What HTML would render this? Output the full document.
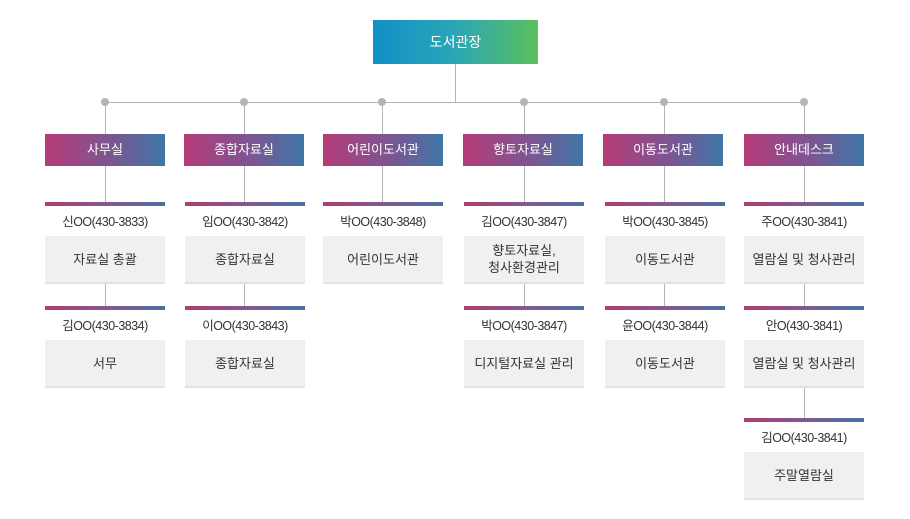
<!DOCTYPE html>
<html><head><meta charset="utf-8"><style>
*{margin:0;padding:0;box-sizing:border-box}
body{width:910px;height:519px;background:#fff;position:relative;font-family:"Liberation Sans","Noto Sans CJK KR",sans-serif;overflow:hidden}
.a{position:absolute}
.l{position:absolute;background:#b5b5b5;z-index:0}
.top{left:373px;top:20px;width:165px;height:44px;background:linear-gradient(90deg,#1190c8,#2aa6b6 50%,#5cc05c);color:#fff;font-size:14px;text-align:center;line-height:44px;z-index:1}
.hd{position:absolute;top:134px;width:120px;height:32px;background:linear-gradient(90deg,#b63c78,#7c5592 55%,#3f76a6);color:#fff;font-size:13px;text-align:center;line-height:32px;z-index:1}
.st{position:absolute;width:120px;height:4px;background:linear-gradient(90deg,#b03c74,#7d5a92 55%,#4a6fa0);z-index:1}
.nm{position:absolute;width:120px;height:30px;background:#fff;text-align:center;font-size:12.5px;color:#333;letter-spacing:-0.5px;z-index:1;padding-top:5px}
.bx{position:absolute;width:120px;height:48px;background:#f0f0f0;border-bottom:2px solid #dfe2ee;display:flex;align-items:center;justify-content:center;text-align:center;font-size:13px;color:#333;line-height:17px;z-index:1}
.dot{position:absolute;top:98px;width:8px;height:8px;border-radius:50%;background:#b5b5b5}
</style></head><body>
<div class="a top">도서관장</div>
<div class="l" style="left:455px;top:64px;width:1px;height:38px"></div>
<div class="l" style="left:105px;top:102px;width:700px;height:1px"></div>

<div class="dot" style="left:101px"></div><div class="l" style="left:105px;top:102px;width:1px;height:240px"></div>
<div class="dot" style="left:240px"></div><div class="l" style="left:244px;top:102px;width:1px;height:240px"></div>
<div class="dot" style="left:378px"></div><div class="l" style="left:382px;top:102px;width:1px;height:110px"></div>
<div class="dot" style="left:520px"></div><div class="l" style="left:524px;top:102px;width:1px;height:240px"></div>
<div class="dot" style="left:660px"></div><div class="l" style="left:664px;top:102px;width:1px;height:240px"></div>
<div class="dot" style="left:800px"></div><div class="l" style="left:804px;top:102px;width:1px;height:350px"></div>

<div class="hd" style="left:45px">사무실</div>
<div class="hd" style="left:184px">종합자료실</div>
<div class="hd" style="left:323px">어린이도서관</div>
<div class="hd" style="left:463px">향토자료실</div>
<div class="hd" style="left:603px">이동도서관</div>
<div class="hd" style="left:744px">안내데스크</div>

<div class="st" style="left:45px;top:202px"></div><div class="nm" style="left:45px;top:206px">신OO(430-3833)</div>
<div class="bx" style="left:45px;top:236px">자료실 총괄</div>
<div class="st" style="left:45px;top:306px"></div><div class="nm" style="left:45px;top:310px">김OO(430-3834)</div>
<div class="bx" style="left:45px;top:340px">서무</div>

<div class="st" style="left:185px;top:202px"></div><div class="nm" style="left:185px;top:206px">임OO(430-3842)</div>
<div class="bx" style="left:185px;top:236px">종합자료실</div>
<div class="st" style="left:185px;top:306px"></div><div class="nm" style="left:185px;top:310px">이OO(430-3843)</div>
<div class="bx" style="left:185px;top:340px">종합자료실</div>

<div class="st" style="left:323px;top:202px"></div><div class="nm" style="left:323px;top:206px">박OO(430-3848)</div>
<div class="bx" style="left:323px;top:236px">어린이도서관</div>

<div class="st" style="left:464px;top:202px"></div><div class="nm" style="left:464px;top:206px">김OO(430-3847)</div>
<div class="bx" style="left:464px;top:236px">향토자료실,<br>청사환경관리</div>
<div class="st" style="left:464px;top:306px"></div><div class="nm" style="left:464px;top:310px">박OO(430-3847)</div>
<div class="bx" style="left:464px;top:340px">디지털자료실 관리</div>

<div class="st" style="left:605px;top:202px"></div><div class="nm" style="left:605px;top:206px">박OO(430-3845)</div>
<div class="bx" style="left:605px;top:236px">이동도서관</div>
<div class="st" style="left:605px;top:306px"></div><div class="nm" style="left:605px;top:310px">윤OO(430-3844)</div>
<div class="bx" style="left:605px;top:340px">이동도서관</div>

<div class="st" style="left:744px;top:202px"></div><div class="nm" style="left:744px;top:206px">주OO(430-3841)</div>
<div class="bx" style="left:744px;top:236px">열람실 및 청사관리</div>
<div class="st" style="left:744px;top:306px"></div><div class="nm" style="left:744px;top:310px">안O(430-3841)</div>
<div class="bx" style="left:744px;top:340px">열람실 및 청사관리</div>
<div class="st" style="left:744px;top:418px"></div><div class="nm" style="left:744px;top:422px">김OO(430-3841)</div>
<div class="bx" style="left:744px;top:452px">주말열람실</div>
</body></html>
